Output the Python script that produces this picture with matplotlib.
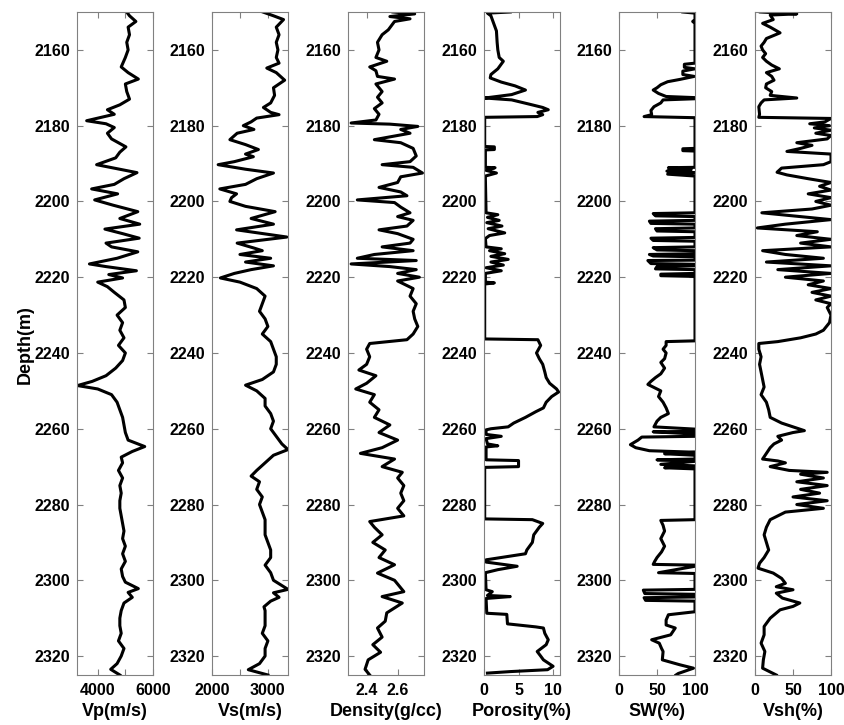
import numpy as np
import matplotlib
matplotlib.use('Agg')
from matplotlib import pyplot as plt

# ############################################## DANE ################################################################ #
vp_depth = [2150, 2151, 2152.5, 2154, 2156, 2158, 2160, 2162, 2164.5, 2166, 2167.7, 2169, 2171, 2173, 2174.5, 2175.8,
            2177, 2178.7, 2179.5, 2180.5, 2182, 2183.5, 2185.6, 2187, 2188.5, 2190.3, 2192.4, 2194, 2195.5, 2196.7,
            2198, 2199.6, 2201, 2202.7, 2204.5, 2206, 2207.3, 2208.5, 2209.7, 2211, 2212, 2213.3, 2215, 2216.5,
            2217.2, 2218.3, 2219.3, 2220.2, 2221.3, 2222.5, 2224, 2226, 2228, 2230, 2232, 2234, 2236, 2238, 2240,
            2242, 2244, 2246, 2247.5, 2248.6, 2249.5, 2251, 2253, 2255, 2257, 2259, 2261, 2263, 2264.7, 2266,
            2267.5, 2269, 2271, 2273, 2275, 2277, 2279, 2281, 2283, 2285, 2287, 2289, 2291, 2293, 2295, 2297, 2299,
            2300.5, 2302.2, 2303.2, 2304.5, 2306, 2308, 2310, 2312, 2314, 2316, 2318, 2320, 2322, 2323.5, 2325]
vp = [5050, 5150, 5380, 5100, 5150, 5050, 5100, 5000, 4850, 5100, 5470, 5000, 5050, 5150, 4800, 4350,
      4600, 3600, 4300, 4600, 4350, 4500, 5020, 4800, 4650, 3960, 5420, 4950, 4600, 3780,
      4720, 3890, 4560, 5450, 4800, 5520, 4260, 4900, 5500, 4300, 4500, 5450, 4700, 3700,
      4300, 5400, 4400, 4900, 4000, 4350, 4600, 4950, 5000, 4700, 4900, 4800, 4950, 4750, 5000,
      4900, 4650, 4300, 3800, 3270, 4000, 4500, 4700, 4800, 4900, 4950, 5000, 5100, 5700, 5250,
      4850, 4900, 4750, 4900, 4800, 4850, 4800, 4800, 4850, 4900, 4950, 4900, 5000, 4900, 5000, 4850, 4900,
      5000, 5470, 5100, 5250, 4950, 4850, 4800, 4800, 4850, 4750, 4950, 4850, 4700, 4470, 4800]

vs_depth = [2150, 2151, 2152, 2154, 2156, 2158, 2160, 2162, 2163.5, 2164.8, 2166, 2168, 2170, 2172, 2174, 2175.2,
            2176.5, 2177.1, 2178, 2179, 2180, 2181, 2182, 2183.7, 2185, 2186.3, 2187.5, 2188.2, 2189.5, 2190.3,
            2191.5, 2192.5, 2194, 2195.5, 2196.7, 2198, 2199, 2200, 2201.3, 2202.7, 2204.5, 2206, 2207.5, 2209.4,
            2211, 2212.3, 2213, 2214, 2215, 2216, 2217, 2218, 2219, 2220.2, 2221.3, 2223, 2225, 2227, 2229, 2231,
            2233, 2235, 2237, 2239, 2241, 2243, 2245, 2247, 2248.5, 2250, 2252, 2254, 2256, 2258, 2260, 2262, 2264,
            2265.5, 2267, 2269, 2271, 2272.5, 2274, 2276, 2278, 2280, 2282, 2284, 2286, 2288, 2290, 2292, 2294,
            2296, 2298, 2300, 2302.4, 2303.3, 2304.5, 2305.5, 2307, 2308, 2310, 2312, 2314, 2316, 2318, 2320,
            2322, 2323.6, 2325]
vs = [2910, 3100, 3280, 3150, 3200, 3150, 3180, 3150, 3200, 2980, 3150, 3300, 3100, 3120, 3050, 2920,
      3050, 3200, 2800, 2700, 2560, 2750, 2450, 2320, 2600, 2830, 2600, 2740, 2400, 2110,
      2600, 3100, 2800, 2600, 2140, 2440, 2350, 2320, 2600, 3130, 2700, 3100, 2440, 3340,
      2450, 2750, 2900, 2500, 3050, 2600, 3100, 2700, 2400, 2150, 2500, 2800, 2950, 2900, 2850, 2950,
      3000, 2900, 3050, 3100, 3150, 3150, 3100, 2900, 2600, 2800, 2950, 2950, 3050, 3100, 3050, 3150, 3250,
      3360, 3100, 2950, 2800, 2700, 2850, 2800, 2900, 2850, 2900, 2950, 2950, 2950, 3000, 3050, 3050,
      2950, 3050, 3100, 3360, 3100, 3200, 3050, 2930, 2950, 2950, 2950, 2900, 3000, 2950, 2950,
      2850, 2650, 3000]

rho_depth = [2150, 2150.5, 2151.2, 2151.8, 2152.5, 2154.7, 2156, 2158, 2160, 2162, 2163, 2164.5, 2165.5, 2167,
             2167.7, 2169, 2171, 2172.5, 2174, 2175.5, 2177, 2178.5, 2179.3, 2179.6, 2180.2, 2181, 2182, 2183.7,
             2184.5, 2186, 2188, 2189.5, 2190.3, 2191, 2192.5, 2193.5, 2195, 2196.3, 2197.5, 2198.5, 2199.6,
             2200.3, 2201.5, 2203, 2204, 2205, 2206.5, 2207.5, 2208.5, 2210, 2211, 2212, 2213, 2214, 2215, 2215.6,
             2216.5, 2217.2, 2218, 2219, 2220, 2221, 2223, 2225, 2227, 2229, 2231, 2233, 2235, 2236.5, 2237.5,
             2239, 2241, 2243, 2244.5, 2246, 2248, 2249.5, 2251, 2253, 2255, 2257, 2259, 2261, 2263, 2265, 2266.5,
             2268, 2270, 2271.5, 2273, 2275, 2277, 2279, 2281, 2283, 2284.5, 2286, 2288, 2290, 2292, 2294, 2295.9,
             2298.1, 2300, 2303, 2304.3, 2306, 2308.6, 2310.8, 2312.6, 2315, 2317, 2319, 2321, 2323.5, 2325]
rho = [2.57, 2.71, 2.55, 2.68, 2.58, 2.54, 2.50, 2.47, 2.48, 2.46, 2.53, 2.42, 2.46, 2.47,
       2.58, 2.46, 2.50, 2.47, 2.50, 2.45, 2.48, 2.46, 2.30, 2.55, 2.73, 2.62, 2.68, 2.45,
       2.62, 2.70, 2.72, 2.68, 2.50, 2.70, 2.76, 2.62, 2.60, 2.48, 2.62, 2.66, 2.34,
       2.58, 2.62, 2.68, 2.60, 2.70, 2.66, 2.48, 2.60, 2.70, 2.68, 2.50, 2.70, 2.45, 2.34, 2.72,
       2.30, 2.55, 2.72, 2.60, 2.74, 2.60, 2.70, 2.68, 2.72, 2.70, 2.71, 2.73, 2.70, 2.66, 2.42,
       2.40, 2.42, 2.40, 2.35, 2.46, 2.40, 2.33, 2.45, 2.42, 2.48, 2.45, 2.55, 2.48, 2.60, 2.50, 2.36,
       2.58, 2.50, 2.63, 2.60, 2.64, 2.62, 2.64, 2.60, 2.64, 2.42, 2.45, 2.50, 2.44, 2.52, 2.48, 2.58,
       2.47, 2.58, 2.64, 2.50, 2.63, 2.53, 2.52, 2.47, 2.50, 2.44, 2.49, 2.41, 2.39, 2.42]

phi_depth = [2150, 2150.3, 2151, 2152.5, 2155, 2158, 2160, 2162, 2163, 2165, 2166.5, 2167.4, 2168.5, 2169.5,
             2170.6, 2171.8, 2172.5, 2172.7, 2173.2, 2174.3, 2175.2, 2175.8, 2176.5, 2177.1, 2177.6, 2177.8,
             2185.5, 2185.6, 2186.3, 2186.4, 2191, 2191.1, 2191.8, 2192.5, 2193.3, 2194, 2203, 2203.5, 2204.2,
             2205, 2205.6, 2206.5, 2207.2, 2208.3, 2209, 2209.8, 2212, 2212.5, 2213, 2213.8, 2214.5, 2215.3, 2216,
             2216.8, 2217.5, 2218.3, 2219, 2221.3, 2221.5, 2221.8, 2236.3, 2236.5, 2238, 2240, 2241.5, 2243, 2245,
             2246.5, 2248, 2249.5, 2250.3, 2251.5, 2253, 2254.5, 2255.5, 2257, 2258.5, 2259.5, 2260, 2260.3,
             2261.5, 2262, 2262.6, 2264, 2264.5, 2264.8, 2268.2, 2268.4, 2270, 2270.2, 2283.8, 2284, 2285, 2286,
             2288, 2290, 2292, 2293, 2294.6, 2295.2, 2296.3, 2297.2, 2298, 2302.5, 2303, 2304, 2304.3, 2304.8,
             2308.7, 2309, 2311.5, 2312.3, 2312.6, 2314, 2315.7, 2317, 2318.8, 2320, 2321, 2322.7, 2323.6, 2324.1,
             2324.5]
phi = [3.8, 0.5, 1.0, 1.3, 1.8, 1.9, 2.0, 2.2, 2.8, 2.0, 1.0, 0.9, 2.5, 4.5,
       6.0, 4.0, 1.0, 0.1, 4.0, 6.5, 8.5, 9.3, 7.8, 8.5, 7.7, 0.1,
       0.1, 1.5, 1.5, 0.2, 0.2, 1.6, 0.3, 1.8, 0.2, 0.2, 0.3, 2.0, 0.5,
       2.2, 0.4, 2.6, 0.6, 3.0, 0.8, 0.2, 0.3, 2.5, 0.8, 3.0, 1.0, 3.5, 1.0,
       2.8, 0.3, 2.5, 0.2, 0.2, 1.5, 0.1, 0.1, 7.8, 8.2, 7.6, 8.0, 8.5, 8.8,
       9.0, 9.5, 10.5, 10.8, 9.8, 9.0, 8.6, 7.5, 6.0, 4.3, 3.5, 1.0, 0.3,
       0.3, 2.5, 0.3, 0.5, 2.0, 0.3, 0.3, 5.0, 5.0, 0.1, 0.1, 7.0, 8.5, 8.0,
       7.2, 7.0, 6.2, 6.0, 0.3, 0.3, 4.8, 2.0, 0.2, 0.3, 1.2, 0.5, 3.8, 0.3,
       0.4, 3.3, 3.4, 7.5, 8.6, 8.8, 9.3, 9.0, 7.7, 8.2, 8.6, 10.0, 9.2, 3.8,
       0.5]

sw_depth = [2150, 2150.3, 2152, 2152.5, 2153, 2163.5, 2163.8, 2164.6, 2165, 2165.6, 2166.5, 2167, 2167.8, 2168.4,
            2169.2, 2170, 2170.6, 2171.5, 2172.3, 2172.6, 2172.9, 2173.2, 2174, 2175, 2176, 2177.1, 2177.6, 2177.9,
            2186, 2186.1, 2186.6, 2186.7, 2191, 2191.1, 2191.6, 2192, 2192.4, 2192.8, 2193.3, 2203, 2203.2,
            2203.8, 2204, 2205, 2205.2, 2205.8, 2206, 2207, 2207.2, 2207.8, 2208, 2209.5, 2209.7, 2210.3, 2210.5,
            2212, 2212.2, 2212.8, 2213, 2213.8, 2214, 2214.4, 2214.6, 2215.5, 2215.6, 2216.4, 2216.6, 2217,
            2217.2, 2217.8, 2218, 2219, 2219.2, 2219.6, 2219.8, 2236.8, 2237, 2238, 2239, 2240, 2241.5, 2242.5,
            2244, 2245.5, 2246.5, 2247.5, 2248.3, 2249, 2250, 2251.5, 2253, 2254.5, 2256, 2257, 2258, 2259.5,
            2260.1, 2260.7, 2260.8, 2261.4, 2262, 2262.2, 2263, 2264.2, 2265, 2265.8, 2266.2, 2266.6, 2267, 2268,
            2268.2, 2268.6, 2269.4, 2269.8, 2270.3, 2270.6, 2284, 2284.2, 2285.5, 2287, 2289, 2291, 2292.5, 2294,
            2295, 2295.8, 2296, 2296.3, 2298, 2298.2, 2302.4, 2302.6, 2303.5, 2303.7, 2304.4, 2304.6, 2305.3,
            2305.5, 2308.3, 2309.1, 2310.5, 2311.8, 2312.6, 2314.4, 2315.7, 2316.6, 2318, 2318.8, 2321, 2322.3,
            2323.2, 2324.6, 2325]
sw = [84, 100, 100, 97, 100, 100, 86, 86, 100, 84, 84, 99, 80, 64,
      55, 50, 45, 52, 62, 100, 100, 58, 55, 46, 42, 43, 33, 100,
      100, 84, 84, 100, 100, 65, 95, 63, 100, 64, 100, 100, 45,
      48, 100, 100, 40, 42, 100, 100, 48, 50, 100, 100, 42, 45, 100,
      100, 45, 50, 100, 100, 40, 45, 100, 100, 38, 42, 100, 100,
      50, 48, 100, 100, 55, 55, 100, 100, 62, 62, 58, 62, 60, 55,
      60, 55, 48, 42, 38, 45, 55, 52, 58, 62, 65, 55, 50, 46,
      100, 100, 45, 100, 100, 30, 25, 15, 22, 40, 100, 60, 100, 100,
      50, 100, 55, 100, 60, 100, 100, 55, 58, 60, 55, 60, 56, 50,
      47, 45, 100, 100, 52, 100, 100, 32, 34, 100, 100, 33, 35,
      100, 100, 65, 62, 62, 74, 68, 43, 53, 56, 58, 57, 80,
      98, 78, 75]

vsh_depth = [2150, 2150.5, 2150.8, 2152, 2153, 2154, 2155.5, 2157, 2158, 2159, 2160, 2161, 2162, 2163, 2164, 2165,
             2166, 2167, 2168, 2169, 2170, 2171, 2172, 2172.7, 2173.2, 2174, 2175, 2177, 2177.8, 2178.1, 2179,
             2179.5, 2180, 2180.6, 2181.2, 2182, 2182.6, 2183.5, 2184.5, 2185.2, 2186, 2186.8, 2187.5, 2189.5,
             2190.3, 2191.2, 2192.3, 2193, 2194, 2195, 2196, 2197, 2198, 2199, 2200, 2201, 2202, 2203, 2204.8,
             2206, 2207, 2208, 2209, 2210, 2211, 2212, 2213, 2214, 2215, 2216, 2217, 2218, 2219, 2220, 2221,
             2222, 2223, 2224, 2225, 2226, 2227, 2228, 2230, 2232, 2234, 2235, 2236, 2237, 2237.5, 2239, 2241,
             2243, 2245, 2247, 2249, 2251, 2253, 2255, 2257, 2258.5, 2259.5, 2260.5, 2261, 2262, 2263, 2264, 2265,
             2266.5, 2268, 2268.5, 2269, 2270, 2271, 2271.5, 2272, 2273, 2274, 2275, 2276, 2277, 2278, 2279, 2280,
             2281, 2282, 2283, 2284, 2286, 2288, 2290, 2292, 2294, 2295.5, 2296.8, 2298.1, 2299.5, 2300.8, 2301.7,
             2302.5, 2303.4, 2304.7, 2306, 2306.9, 2307.8, 2310, 2312.2, 2314.4, 2316.6, 2318.8, 2321, 2323.2, 2325]
vsh = [7, 55, 20, 24, 10, 20, 33, 15, 12, 8, 10, 14, 10, 15, 22, 32,
       15, 22, 25, 15, 14, 22, 20, 55, 12, 8, 5, 6, 5, 100, 92,
       72, 98, 78, 100, 80, 100, 95, 55, 75, 60, 42, 100, 100,
       90, 35, 29, 42, 70, 100, 85, 100, 70, 100, 80, 100, 75, 9, 100,
       40, 3, 82, 55, 100, 60, 100, 10, 40, 90, 15, 100, 30, 100, 40, 90,
       70, 100, 75, 100, 80, 100, 95, 100, 98, 90, 80, 60, 30, 5, 5, 8,
       6, 8, 10, 12, 8, 15, 18, 20, 35, 50, 65, 50, 30, 35, 25, 20,
       15, 10, 30, 40, 20, 45, 95, 60, 90, 55, 95, 60, 85, 50, 95, 55,
       90, 40, 30, 20, 15, 12, 15, 18, 12, 6, 4, 24, 35, 40, 28,
       50, 28, 36, 59, 50, 33, 20, 12, 12, 8, 13, 11, 10, 28]

labels = ['Vp(m/s)', 'Vs(m/s)', 'Density(g/cc)', 'Porosity(%)', 'SW(%)', 'Vsh(%)']
xlims = [(3250, 6000), (2000, 3360), (2.28, 2.77), (0, 11), (0, 100), (0, 100)]
xticks = [[4000, 5000, 6000], [2000, 2500, 3000], [2.4, 2.6], [0, 5, 10], [0, 50, 100], [0, 50, 100]]
xticklabels = [['4000', '', '6000'], ['2000', '', '3000'], ['2.4', '2.6'], ['0', '5', '10'],
               ['0', '50', '100'], ['0', '50', '100']]
depth_ticks = [2160, 2180, 2200, 2220, 2240, 2260, 2280, 2300, 2320]

logs = [(vp_depth, vp), (vs_depth, vs), (rho_depth, rho), (phi_depth, phi), (sw_depth, sw), (vsh_depth, vsh)]

# ############################################## RYSOWANIE ########################################################### #
plt.rcParams['font.family'] = ['Liberation Sans', 'DejaVu Sans']
plt.rcParams['font.weight'] = 'bold'

fig = plt.figure(figsize=(8.45, 7.25), dpi=100)
W, H = 845., 725.
lefts = [77, 212, 348, 484, 619, 755]

for i, (d, v) in enumerate(logs):
    ax = fig.add_axes([lefts[i] / W, (H - 675) / H, 76 / W, 663 / H])
    ax.plot(v, d, color='k', lw=2.2, solid_joinstyle='round')
    ax.set_ylim(2325, 2150)
    ax.set_xlim(*xlims[i])
    ax.set_yticks(depth_ticks)
    ax.set_xticks(xticks[i])
    ax.set_xticklabels(xticklabels[i])
    ax.tick_params(direction='in', length=4.5, width=0.8, color='#808080', top=True, right=True,
                   labelsize=11.5, pad=5)
    ax.tick_params(axis='x', pad=6)
    for s in ax.spines.values():
        s.set_color('#808080')
        s.set_linewidth(0.8)
    ax.set_xlabel(labels[i], fontsize=13, fontweight='bold', labelpad=3)
    for t in ax.get_xticklabels() + ax.get_yticklabels():
        t.set_fontweight('bold')

fig.text(25 / W, (H - 345) / H, 'Depth(m)', rotation=90, ha='center', va='center', fontsize=13, fontweight='bold')

fig.savefig('out.png', dpi=100)
